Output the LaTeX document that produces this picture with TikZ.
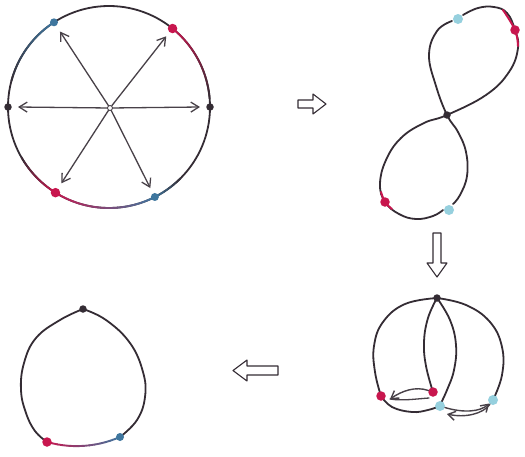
\documentclass[tikz,border=0pt]{standalone}
\usetikzlibrary{arrows.meta,calc}
\definecolor{ink}{RGB}{52,44,52}
\definecolor{crim}{RGB}{200,22,78}
\definecolor{steel}{RGB}{62,118,158}
\definecolor{cyanp}{RGB}{150,208,222}
% gradient arc: center, radius, start, end, colour1, colour2, pieces
\newcommand{\gradarc}[7]{%
  \foreach \k in {1,...,#7}{%
    \pgfmathsetmacro\aa{#3+(#4-#3)*(\k-1)/#7}%
    \pgfmathsetmacro\ab{#3+(#4-#3)*\k/#7}%
    \pgfmathtruncatemacro\pp{100-100*(\k-0.5)/#7}%
    \draw[line width=1.9pt,draw=#5!\pp!#6] ($(#1)+(\aa:#2)$) arc[start angle=\aa,end angle=\ab,radius=#2];
  }}
\begin{document}
\begin{tikzpicture}[x=1pt,y=-1pt,line cap=round,line join=round,
  curve/.style={draw=ink,line width=1.8pt},
  dotb/.style={circle,fill=ink,inner sep=0pt,minimum size=7.5pt},
  dotr/.style={circle,fill=crim,inner sep=0pt,minimum size=9.5pt},
  dots/.style={circle,fill=steel,inner sep=0pt,minimum size=8pt},
  dotc/.style={circle,fill=cyanp,inner sep=0pt,minimum size=10pt},
  vec/.style={draw=ink!90,line width=1.3pt,-{Straight Barb[length=8pt,width=10pt]}},
  svec/.style={draw=ink!90,line width=1.4pt,-{Straight Barb[length=7pt,width=9pt]}},
  hollow/.style={draw=ink,line width=1.1pt,fill=white}]
\useasboundingbox (0,0) rectangle (525,456);
\fill[white] (0,0) rectangle (525,456);

% ---------------- panel 1 : circle with vectors
\coordinate (c1) at (109,107);
\draw[curve] (c1) circle[radius=101];
\gradarc{c1}{101}{195}{237}{ink}{steel}{12}
\gradarc{c1}{101}{-51}{-5}{crim}{ink}{12}
\gradarc{c1}{101}{150}{122}{ink}{crim}{8}
\gradarc{c1}{101}{122}{63}{crim}{steel}{16}
\gradarc{c1}{101}{63}{45}{steel}{ink}{6}
\node[dotb] (l1) at ($(c1)+(180:101)$) {};
\node[dotb] (r1) at ($(c1)+(0:101)$) {};
\node[dots] (btl) at ($(c1)+(-123:101)$) {};
\node[dotr] (rtr) at ($(c1)+(-51:101)$) {};
\node[dotr] (rbl) at ($(c1)+(122:101)$) {};
\node[dots] (bbr) at ($(c1)+(63:101)$) {};
\node[circle,draw=ink,fill=white,line width=0.8pt,inner sep=0pt,minimum size=5pt] (o1) at (110,108) {};
\coordinate (t1) at ($(c1)+(180:91)$);
\coordinate (t2) at ($(c1)+(0:91)$);
\coordinate (t3) at ($(c1)+(-123:90)$);
\coordinate (t4) at ($(c1)+(-51:91)$);
\coordinate (t5) at ($(c1)+(122:90)$);
\coordinate (t6) at ($(c1)+(63:91)$);
\foreach \t in {t1,t2,t3,t4,t5,t6}{\draw[vec] (o1) -- (\t);}

% ---------------- hollow arrows
\draw[hollow] (298,100) -- (313,100) -- (313,94) -- (326,104) -- (313,114) -- (313,108) -- (298,108) -- cycle;
\draw[hollow] (433,233) -- (441,233) -- (441,263) -- (447,263) -- (437,277) -- (427,263) -- (433,263) -- cycle;
\draw[hollow] (278,366) -- (247,366) -- (247,360) -- (233,370.5) -- (247,381) -- (247,375) -- (278,375) -- cycle;

% ---------------- panel 2 : figure eight
\draw[curve] plot[smooth,tension=0.7] coordinates {(452,21) (437,31) (429,55) (436,86) (447,115) (458,132) (466,152) (467,176) (460,195) (453,204)};
\draw[curve] plot[smooth,tension=0.7] coordinates {(463,15) (478,8) (494,7) (507,13) (515,30) (518,48) (509,72) (486,95) (447,115) (424,123) (401,138) (386,160) (380,184) (385,202) (399,214) (416,219) (433,216) (443,210)};
\draw[line width=2pt,crim] plot[smooth,tension=0.7] coordinates {(503,10) (515,30) (518,46)};
\draw[line width=2pt,crim] plot[smooth,tension=0.7] coordinates {(381,192) (385,202) (392,209)};
\node[dotb] (x2) at (447,115) {};
\node[dotc] (c2a) at (458,19) {};
\node[dotr] (r2a) at (515,30) {};
\node[dotr] (r2b) at (385,202) {};
\node[dotc] (c2b) at (449,210) {};

% ---------------- panel 3 : pulled loops
\draw[curve] plot[smooth,tension=0.7] coordinates {(381,396) (375,372) (374,346) (383,322) (405,304) (437,298)};
\draw[curve] plot[smooth,tension=0.7] coordinates {(437,298) (466,305) (490,322) (502,347) (502,375) (493,400)};
\draw[curve] plot[smooth,tension=0.7] coordinates {(381,396) (392,407) (412,412) (428,410) (440,406)};
\draw[curve] plot[smooth,tension=0.7] coordinates {(437,298) (428,318) (424,342) (426,366) (433,392)};
\draw[curve] plot[smooth,tension=0.7] coordinates {(437,298) (450,320) (456,345) (454,370) (447,390) (440,405)};
\node[dotb] (top3) at (437,298) {};
\node[dotr] (r3a) at (381,396) {};
\node[dotr] (r3b) at (433,392) {};
\node[dotc] (c3a) at (440,406) {};
\node[dotc] (c3b) at (493,400) {};
\coordinate (a3) at (390,399);
\draw[svec] (r3b) .. controls (415,386) and (402,391) .. (a3);
\draw[draw=ink!90,line width=1.3pt] (429,398) .. controls (415,399) and (402,401) .. (a3);
\draw[svec] (c3a) .. controls (463,413) and (480,412) .. (c3b);
\coordinate (a4) at (447,414);
\draw[svec] (c3b) .. controls (483,414) and (465,418) .. (a4);

% ---------------- panel 4 : teardrop
\coordinate (c4) at (76.6,338.4);
\draw[curve] plot[smooth,tension=0.7] coordinates {(47,442) (35,431) (26,413) (21,390) (24,363) (36,338) (60,320) (83,309)};
\draw[curve] plot[smooth,tension=0.7] coordinates {(83,309) (106,320) (130,343) (143,372) (145,397) (137,420) (120,437)};
\gradarc{c4}{107.7}{106}{66}{crim}{steel}{14}
\node[dotb] (top4) at (83,309) {};
\node[dotr] (r4) at (47,442) {};
\node[dots] (b4) at (120,437) {};
\end{tikzpicture}
\end{document}
